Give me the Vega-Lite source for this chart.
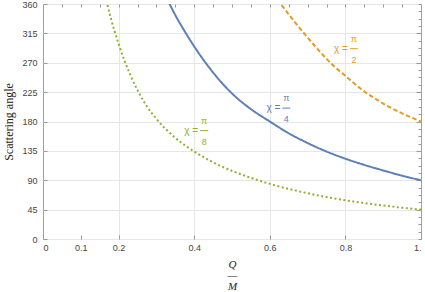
{
  "$schema": "https://vega.github.io/schema/vega-lite/v6.json",
  "width": 378,
  "height": 235,
  "autosize": {"type": "none"},
  "padding": {"left": 43, "top": 4, "right": 4, "bottom": 53},
  "config": {
    "view": {"stroke": "#a0a0a0", "strokeWidth": 1},
    "font": "Liberation Sans",
    "axis": {"labelFont": "Liberation Sans", "labelFontSize": 9, "labelColor": "#444", "domain": false, "tickColor": "#999", "gridColor": "#e6e6e6", "gridWidth": 1}
  },
  "datasets": {
    "curves": [
      {"chi": "pi4", "qm": 0.33, "angle": 366}, {"chi": "pi4", "qm": 0.335, "angle": 360}, {"chi": "pi4", "qm": 0.35, "angle": 343},
      {"chi": "pi4", "qm": 0.375, "angle": 318}, {"chi": "pi4", "qm": 0.4, "angle": 295}, {"chi": "pi4", "qm": 0.425, "angle": 274},
      {"chi": "pi4", "qm": 0.45, "angle": 255}, {"chi": "pi4", "qm": 0.475, "angle": 238}, {"chi": "pi4", "qm": 0.5, "angle": 223},
      {"chi": "pi4", "qm": 0.55, "angle": 199}, {"chi": "pi4", "qm": 0.6, "angle": 180}, {"chi": "pi4", "qm": 0.65, "angle": 162},
      {"chi": "pi4", "qm": 0.7, "angle": 147}, {"chi": "pi4", "qm": 0.75, "angle": 134}, {"chi": "pi4", "qm": 0.8, "angle": 123},
      {"chi": "pi4", "qm": 0.85, "angle": 113.5}, {"chi": "pi4", "qm": 0.9, "angle": 105}, {"chi": "pi4", "qm": 0.95, "angle": 97},
      {"chi": "pi4", "qm": 1, "angle": 90},
      {"chi": "pi2", "qm": 0.62, "angle": 367}, {"chi": "pi2", "qm": 0.65, "angle": 344}, {"chi": "pi2", "qm": 0.675, "angle": 326},
      {"chi": "pi2", "qm": 0.7, "angle": 308.6}, {"chi": "pi2", "qm": 0.725, "angle": 292}, {"chi": "pi2", "qm": 0.75, "angle": 276},
      {"chi": "pi2", "qm": 0.775, "angle": 262}, {"chi": "pi2", "qm": 0.8, "angle": 250}, {"chi": "pi2", "qm": 0.825, "angle": 237.5},
      {"chi": "pi2", "qm": 0.85, "angle": 226}, {"chi": "pi2", "qm": 0.875, "angle": 216.5}, {"chi": "pi2", "qm": 0.9, "angle": 207.5},
      {"chi": "pi2", "qm": 0.95, "angle": 192.5}, {"chi": "pi2", "qm": 1, "angle": 180},
      {"chi": "pi8", "qm": 0.165, "angle": 372}, {"chi": "pi8", "qm": 0.17, "angle": 360}, {"chi": "pi8", "qm": 0.18, "angle": 337},
      {"chi": "pi8", "qm": 0.19, "angle": 317}, {"chi": "pi8", "qm": 0.2, "angle": 299}, {"chi": "pi8", "qm": 0.215, "angle": 274},
      {"chi": "pi8", "qm": 0.23, "angle": 253}, {"chi": "pi8", "qm": 0.25, "angle": 228}, {"chi": "pi8", "qm": 0.275, "angle": 203},
      {"chi": "pi8", "qm": 0.3, "angle": 184}, {"chi": "pi8", "qm": 0.35, "angle": 155}, {"chi": "pi8", "qm": 0.4, "angle": 134},
      {"chi": "pi8", "qm": 0.45, "angle": 117.5}, {"chi": "pi8", "qm": 0.5, "angle": 104.4}, {"chi": "pi8", "qm": 0.55, "angle": 93.7},
      {"chi": "pi8", "qm": 0.6, "angle": 84.4}, {"chi": "pi8", "qm": 0.65, "angle": 76.7}, {"chi": "pi8", "qm": 0.7, "angle": 70.1},
      {"chi": "pi8", "qm": 0.75, "angle": 64.3}, {"chi": "pi8", "qm": 0.8, "angle": 59.3}, {"chi": "pi8", "qm": 0.85, "angle": 55.1},
      {"chi": "pi8", "qm": 0.9, "angle": 51.3}, {"chi": "pi8", "qm": 0.95, "angle": 47.9}, {"chi": "pi8", "qm": 1, "angle": 45}
    ],
    "labels": [
      {"chi": "pi4", "lx": 0.6437, "ly": 200.5, "num": "π", "den": "4"},
      {"chi": "pi2", "lx": 0.8225, "ly": 291.5, "num": "π", "den": "2"},
      {"chi": "pi8", "lx": 0.4265, "ly": 166, "num": "π", "den": "8"}
    ]
  },
  "resolve": {"axis": {"x": "independent", "y": "independent"}},
  "layer": [
    {
      "data": {"name": "curves"},
      "mark": {"type": "line", "strokeOpacity": 0},
      "encoding": {
        "x": {"field": "qm", "type": "quantitative", "scale": {"domain": [0, 1], "nice": false, "zero": false},
              "axis": {"orient": "bottom", "values": [0.2, 0.4, 0.6, 0.8], "grid": true, "labels": false, "ticks": false, "title": null}},
        "y": {"field": "angle", "type": "quantitative", "scale": {"domain": [0, 360], "nice": false},
              "axis": {"orient": "right", "values": [0, 11.25, 22.5, 33.75, 45, 56.25, 67.5, 78.75, 90, 101.25, 112.5, 123.75, 135, 146.25, 157.5, 168.75, 180, 191.25, 202.5, 213.75, 225, 236.25, 247.5, 258.75, 270, 281.25, 292.5, 303.75, 315, 326.25, 337.5, 348.75, 360], "grid": false, "labels": false, "tickSize": -3, "title": null}}
      }
    },
    {
      "data": {"name": "curves"},
      "mark": {"type": "line", "strokeOpacity": 0},
      "encoding": {
        "x": {"field": "qm", "type": "quantitative",
              "axis": {"orient": "top", "values": [0.05, 0.1, 0.15, 0.2, 0.25, 0.3, 0.35, 0.4, 0.45, 0.5, 0.55, 0.6, 0.65, 0.7, 0.75, 0.8, 0.85, 0.9, 0.95], "grid": false, "labels": false, "tickSize": -3, "title": null}},
        "y": {"field": "angle", "type": "quantitative",
              "axis": {"orient": "right", "values": [45, 90, 135, 180, 225, 270, 315], "grid": false, "labels": false, "tickSize": -5, "title": null}}
      }
    },
    {
      "data": {"name": "curves"},
      "mark": {"type": "line", "clip": true, "strokeWidth": 2, "interpolate": "monotone"},
      "encoding": {
        "x": {"field": "qm", "type": "quantitative",
              "axis": {"orient": "bottom", "values": [0, 0.1, 0.2, 0.4, 0.6, 0.8, 1], "grid": false, "tickSize": -4, "labelPadding": 8,
                       "labelExpr": "datum.value == 1 ? '1.' : format(datum.value, '~g')",
                       "title": ["Q", "—", "M"], "titleFont": "Liberation Serif", "titleFontStyle": "italic", "titleFontWeight": "normal",
                       "titleFontSize": 11, "titleLineHeight": 11, "titleColor": "#222", "titlePadding": 6}},
        "y": {"field": "angle", "type": "quantitative",
              "axis": {"orient": "left", "values": [0, 45, 90, 135, 180, 225, 270, 315, 360], "grid": true, "tickSize": -4, "labelPadding": 10,
                       "title": "Scattering angle", "titleFont": "Liberation Serif", "titleFontWeight": "normal", "titleFontSize": 12,
                       "titleColor": "#222", "titlePadding": 6}},
        "color": {"field": "chi", "type": "nominal", "scale": {"domain": ["pi4", "pi2", "pi8"], "range": ["#5E81B5", "#E19C24", "#8FB032"]}, "legend": null},
        "strokeDash": {"field": "chi", "type": "nominal", "scale": {"domain": ["pi4", "pi2", "pi8"], "range": [[1, 0], [4.5, 2.5], [2, 2.5]]}, "legend": null}
      }
    },
    {
      "data": {"name": "labels"},
      "mark": {"type": "text", "align": "right", "baseline": "middle", "dx": -6, "fontSize": 10},
      "encoding": {
        "x": {"field": "lx", "type": "quantitative", "axis": null},
        "y": {"field": "ly", "type": "quantitative", "axis": null},
        "text": {"value": "χ ="},
        "color": {"field": "chi", "type": "nominal", "legend": null}
      }
    },
    {
      "data": {"name": "labels"},
      "mark": {"type": "text", "align": "center", "baseline": "middle", "dy": -10, "fontSize": 9},
      "encoding": {
        "x": {"field": "lx", "type": "quantitative", "axis": null},
        "y": {"field": "ly", "type": "quantitative", "axis": null},
        "text": {"field": "num"},
        "color": {"field": "chi", "type": "nominal", "legend": null}
      }
    },
    {
      "data": {"name": "labels"},
      "mark": {"type": "text", "align": "center", "baseline": "middle", "dy": 11, "fontSize": 9},
      "encoding": {
        "x": {"field": "lx", "type": "quantitative", "axis": null},
        "y": {"field": "ly", "type": "quantitative", "axis": null},
        "text": {"field": "den"},
        "color": {"field": "chi", "type": "nominal", "legend": null}
      }
    },
    {
      "data": {"name": "labels"},
      "mark": {"type": "rule", "xOffset": -4, "x2Offset": 4, "strokeWidth": 1},
      "encoding": {
        "x": {"field": "lx", "type": "quantitative", "axis": null},
        "x2": {"field": "lx"},
        "y": {"field": "ly", "type": "quantitative", "axis": null},
        "color": {"field": "chi", "type": "nominal", "legend": null}
      }
    }
  ]
}
